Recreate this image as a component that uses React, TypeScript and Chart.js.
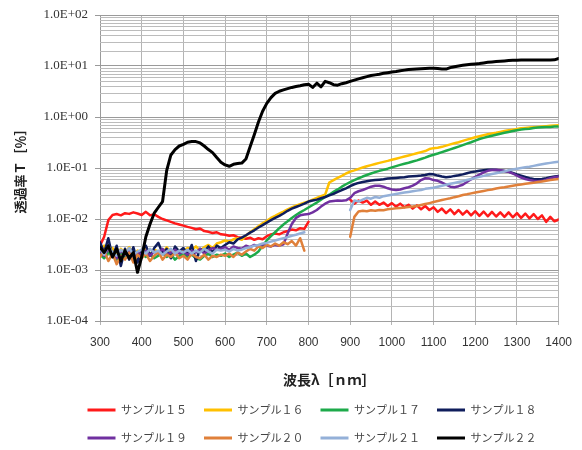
import { useEffect, useRef } from 'react';
import { Chart, registerables } from 'chart.js';

Chart.register(...registerables);

const wavelengths = [
  300, 310, 320, 330, 340, 350, 360, 370, 380, 390,
  400, 410, 420, 430, 440, 450, 460, 470, 480, 490,
  500, 510, 520, 530, 540, 550, 560, 570, 580, 590,
  600, 610, 620, 630, 640, 650, 660, 670, 680, 690,
  700, 710, 720, 730, 740, 750, 760, 770, 780, 790,
  800, 810, 820, 830, 840, 850, 860, 870, 880, 890,
  900, 910, 920, 930, 940, 950, 960, 970, 980, 990,
  1000, 1010, 1020, 1030, 1040, 1050, 1060, 1070, 1080, 1090,
  1100, 1110, 1120, 1130, 1140, 1150, 1160, 1170, 1180, 1190,
  1200, 1210, 1220, 1230, 1240, 1250, 1260, 1270, 1280, 1290,
  1300, 1310, 1320, 1330, 1340, 1350, 1360, 1370, 1380, 1390,
  1400,
];

const seriesNames = ['サンプル１５', 'サンプル１６', 'サンプル１７', 'サンプル１８', 'サンプル１９', 'サンプル２０', 'サンプル２１', 'サンプル２２'];
const seriesColors = ['#ff1a1a', '#ffc000', '#1daa4a', '#0f1d5c', '#7030a0', '#e0803a', '#94b0d8', '#000000'];

const sample15 = [
  0.0030, 0.0045, 0.0095, 0.0120, 0.0125, 0.0118, 0.0130, 0.0126, 0.0135, 0.0128,
  0.0120, 0.0138, 0.0118, 0.0124, 0.0110, 0.0100, 0.0094, 0.0088, 0.0082, 0.0078,
  0.0074, 0.0070, 0.0067, 0.0063, 0.0065, 0.0058, 0.0056, 0.0053, 0.0055, 0.0050,
  0.0049, 0.0047, 0.0048, 0.0044, 0.0043, 0.0041, 0.0043, 0.0039, 0.0042, 0.0040,
  0.0046, 0.0050, 0.0052, 0.0050, 0.0055, 0.0058, 0.0062, 0.0060, 0.0066, 0.0064,
  0.0088, null, null, null, null, null, null, null, null, null,
  0.024, 0.020, 0.023, 0.021, 0.023, 0.019, 0.022, 0.019, 0.021, 0.018,
  0.0205, 0.0175, 0.020, 0.0170, 0.019, 0.0160, 0.0185, 0.0155, 0.018, 0.0150,
  0.0170, 0.0138, 0.0160, 0.0130, 0.0155, 0.0125, 0.0150, 0.0122, 0.0145, 0.0118,
  0.0142, 0.0115, 0.0140, 0.0113, 0.0138, 0.0112, 0.0135, 0.0110, 0.0135, 0.0108,
  0.0130, 0.0105, 0.0128, 0.0103, 0.0125, 0.0100, 0.0118, 0.0088, 0.0110, 0.0090,
  0.0098,
];

const sample16 = [
  0.0025, 0.0030, 0.0021, 0.0027, 0.0019, 0.0026, 0.0022, 0.0028, 0.0020, 0.0024,
  0.0022, 0.0027, 0.0020, 0.0025, 0.0023, 0.0021, 0.0028, 0.0022, 0.0026, 0.0024,
  0.0023, 0.0027, 0.0025, 0.0029, 0.0024, 0.0028, 0.0031, 0.0027, 0.0033, 0.0035,
  0.0038, 0.0036, 0.0040, 0.0042, 0.0039, 0.0047, 0.0055, 0.0063, 0.0072, 0.0082,
  0.0092, 0.0105, 0.0115, 0.0128, 0.0140, 0.0155, 0.0168, 0.0182, 0.0195, 0.0208,
  0.022, 0.024, 0.026, 0.028, 0.030, 0.052, 0.058, 0.064, 0.070, 0.078,
  0.085, 0.090, 0.096, 0.102, 0.108, 0.114, 0.120, 0.126, 0.132, 0.138,
  0.145, 0.152, 0.160, 0.168, 0.176, 0.185, 0.195, 0.205, 0.215, 0.235,
  0.245, 0.250, 0.260, 0.275, 0.290, 0.305, 0.320, 0.340, 0.360, 0.380,
  0.40, 0.42, 0.44, 0.46, 0.475, 0.49, 0.51, 0.53, 0.55, 0.565,
  0.58, 0.60, 0.61, 0.62, 0.63, 0.64, 0.65, 0.66, 0.67, 0.68,
  0.69,
];

const sample17 = [
  0.0020, 0.0017, 0.0022, 0.0019, 0.0016, 0.0021, 0.0018, 0.0020, 0.0017, 0.0019,
  0.0021, 0.0018, 0.0020, 0.0017, 0.0019, 0.0022, 0.0018, 0.0020, 0.0016, 0.0019,
  0.0021, 0.0018, 0.0020, 0.0017, 0.0016, 0.0019, 0.0021, 0.0018, 0.0020, 0.0019,
  0.0021, 0.0018, 0.0020, 0.0022, 0.0019, 0.0021, 0.0018, 0.0020, 0.0023, 0.0030,
  0.0038, 0.0046, 0.0055, 0.0066, 0.0078, 0.0090, 0.0105, 0.0120, 0.0135, 0.0150,
  0.0168, 0.0188, 0.021, 0.024, 0.027, 0.030, 0.034, 0.038, 0.043, 0.048,
  0.053, 0.058, 0.063, 0.068, 0.073, 0.078, 0.083, 0.088, 0.092, 0.097,
  0.103, 0.109, 0.115, 0.121, 0.127, 0.134, 0.141, 0.150, 0.160, 0.172,
  0.182, 0.192, 0.205, 0.218, 0.232, 0.246, 0.262, 0.280, 0.30, 0.32,
  0.345, 0.37, 0.39, 0.41, 0.43, 0.45, 0.47, 0.49, 0.51, 0.53,
  0.55, 0.57, 0.58, 0.59, 0.61, 0.62, 0.63, 0.64, 0.64, 0.65,
  0.65,
];

const sample18 = [
  0.0035, 0.0022, 0.0042, 0.0018, 0.0030, 0.0012, 0.0026, 0.0016, 0.0028, 0.0014,
  0.0024, 0.0030, 0.0019, 0.0027, 0.0034, 0.0021, 0.0026, 0.0017, 0.0029, 0.0023,
  0.0027, 0.0020, 0.0031, 0.0015, 0.0026, 0.0023, 0.0029, 0.0022, 0.0030, 0.0027,
  0.0031, 0.0035, 0.0033, 0.0040, 0.0043, 0.0048, 0.0054, 0.0060, 0.0068, 0.0076,
  0.0085, 0.0095, 0.0105, 0.0115, 0.0128, 0.0145, 0.0160, 0.0172, 0.0185, 0.0200,
  0.0220, 0.0230, 0.0240, 0.0255, 0.0270, 0.0290, 0.0310, 0.0340, 0.0370, 0.0400,
  0.0440, 0.048, 0.051, 0.053, 0.055, 0.057, 0.058, 0.059, 0.060, 0.062,
  0.063, 0.064, 0.065, 0.066, 0.068, 0.069, 0.070, 0.071, 0.073, 0.076,
  0.075, 0.071, 0.068, 0.066, 0.067, 0.070, 0.072, 0.075, 0.079, 0.083,
  0.085, 0.088, 0.090, 0.092, 0.092, 0.091, 0.089, 0.087, 0.085, 0.080,
  0.075, 0.071, 0.067, 0.063, 0.061, 0.060, 0.061, 0.063, 0.066, 0.068,
  0.070,
];

const sample19 = [
  0.0023, 0.0019, 0.0026, 0.0021, 0.0017, 0.0024, 0.0020, 0.0025, 0.0018, 0.0022,
  0.0020, 0.0024, 0.0019, 0.0023, 0.0021, 0.0026, 0.0020, 0.0022, 0.0025, 0.0021,
  0.0023, 0.0020, 0.0024, 0.0022, 0.0026, 0.0021, 0.0024, 0.0027, 0.0025, 0.0026,
  0.0028, 0.0025, 0.0029, 0.0027, 0.0026, 0.0030, 0.0028, 0.0031, 0.0029, 0.0032,
  0.0030, 0.0029, 0.0031, 0.0030, 0.0032, 0.0052, 0.0080, 0.0105, 0.0118, 0.0122,
  0.0125, 0.0135, 0.0150, 0.0175, 0.0200, 0.0220, 0.0225, 0.0230, 0.0228, 0.0232,
  0.026, 0.032, 0.035, 0.037, 0.040, 0.043, 0.045, 0.045, 0.043, 0.040,
  0.038, 0.037, 0.038, 0.040, 0.042, 0.045, 0.050, 0.058, 0.063, 0.062,
  0.058, 0.056, 0.052, 0.047, 0.043, 0.042, 0.044, 0.047, 0.053, 0.060,
  0.067, 0.074, 0.082, 0.088, 0.091, 0.092, 0.090, 0.087, 0.084, 0.078,
  0.071, 0.065, 0.061, 0.058, 0.056, 0.055, 0.056, 0.059, 0.063, 0.066,
  0.068,
];

const sample20 = [
  0.0018, 0.0024, 0.0015, 0.0021, 0.0013, 0.0019, 0.0016, 0.0022, 0.0014, 0.0020,
  0.0017, 0.0021, 0.0015, 0.0019, 0.0023, 0.0016, 0.0020, 0.0018, 0.0022, 0.0017,
  0.0019, 0.0016, 0.0021, 0.0018, 0.0017, 0.0020, 0.0016, 0.0019, 0.0018, 0.0020,
  0.0019, 0.0021, 0.0018, 0.0022, 0.0020, 0.0023, 0.0026, 0.0024, 0.0029, 0.0027,
  0.0031, 0.0029, 0.0033, 0.0030, 0.0035, 0.0032, 0.0037, 0.0030, 0.0042, 0.0024,
  null, null, null, null, null, null, null, null, null, null,
  0.0045, 0.0110, 0.0140, 0.0145, 0.0142, 0.0148, 0.0145, 0.0150, 0.0148, 0.0155,
  0.0158, 0.0162, 0.0165, 0.0168, 0.0172, 0.0175, 0.0180, 0.0188, 0.0196, 0.0205,
  0.0215, 0.0225, 0.0235, 0.0245, 0.0255, 0.0268, 0.0280, 0.0295, 0.0305, 0.0318,
  0.0330, 0.0342, 0.0355, 0.0368, 0.0380, 0.0395, 0.0408, 0.0420, 0.0435, 0.0450,
  0.0462, 0.0475, 0.0490, 0.0502, 0.0515, 0.0530, 0.0545, 0.0560, 0.0580, 0.0595,
  0.0610,
];

const sample21 = [
  0.0026, 0.0020, 0.0030, 0.0022, 0.0019, 0.0025, 0.0021, 0.0027, 0.0020, 0.0023,
  0.0025, 0.0021, 0.0026, 0.0022, 0.0024, 0.0020, 0.0023, 0.0026, 0.0021, 0.0024,
  0.0022, 0.0025, 0.0021, 0.0024, 0.0022, 0.0026, 0.0023, 0.0021, 0.0025, 0.0024,
  0.0025, 0.0023, 0.0026, 0.0024, 0.0025, 0.0027, 0.0028, 0.0030, 0.0031, 0.0033,
  0.0034, 0.0036, 0.0038, 0.0040, 0.0042, 0.0044, 0.0047, 0.0049, 0.0052, 0.0055,
  null, null, null, null, null, null, null, null, null, null,
  0.015, 0.023, 0.022, 0.024, 0.026, 0.025, 0.027, 0.026, 0.028, 0.029,
  0.030, 0.031, 0.032, 0.033, 0.034, 0.035, 0.036, 0.037, 0.039, 0.040,
  0.041, 0.043, 0.045, 0.047, 0.049, 0.051, 0.053, 0.055, 0.058, 0.061,
  0.064, 0.067, 0.070, 0.073, 0.076, 0.079, 0.082, 0.086, 0.090, 0.094,
  0.097, 0.100, 0.103, 0.106, 0.110, 0.114, 0.118, 0.122, 0.126, 0.129,
  0.132,
];

const sample22 = [
  0.0028, 0.0022, 0.0030, 0.0018, 0.0026, 0.0015, 0.0024, 0.0017, 0.0022, 0.0009,
  0.0018, 0.0045, 0.0080, 0.013, 0.017, 0.022, 0.09, 0.18, 0.23, 0.27,
  0.29, 0.32, 0.33, 0.33, 0.31, 0.27, 0.23, 0.20, 0.16, 0.13,
  0.115, 0.108, 0.118, 0.122, 0.125, 0.15, 0.26, 0.45, 0.80, 1.3,
  1.85, 2.4, 2.9, 3.2, 3.4, 3.6, 3.8, 3.95, 4.1, 4.3,
  4.4, 3.8, 4.6, 3.9, 5.0, 4.7, 4.3, 4.2, 4.5, 4.7,
  5.0, 5.3, 5.6, 5.9, 6.2, 6.5, 6.7, 6.9, 7.2, 7.4,
  7.6, 7.8, 8.1, 8.3, 8.5, 8.6, 8.7, 8.8, 8.9, 9.0,
  9.0, 8.9, 8.7, 8.7, 9.3, 9.7, 10.0, 10.3, 10.6, 10.8,
  11.0, 11.2, 11.5, 11.8, 12.0, 12.2, 12.4, 12.6, 12.8, 12.9,
  13.0, 13.1, 13.1, 13.1, 13.1, 13.1, 13.1, 13.1, 13.1, 13.2,
  14.0,
];

const yMajorTicks = [0.0001, 0.001, 0.01, 0.1, 1, 10, 100];
const yTickLabels = ['1.0E-04', '1.0E-03', '1.0E-02', '1.0E-01', '1.0E+00', '1.0E+01', '1.0E+02'];
const yMinorSteps = [2, 3, 4, 5, 6, 7, 8, 9];
const xTicks = [300, 400, 500, 600, 700, 800, 900, 1000, 1100, 1200, 1300, 1400];
const xTickLabels = ['300', '400', '500', '600', '700', '800', '900', '1000', '1100', '1200', '1300', '1400'];

const LEGEND_DX = 32;
const LEGEND_DY = 3.5;

export default function App() {
  const ref = useRef<HTMLCanvasElement>(null);

  useEffect(() => {
    document.body.style.margin = '0';
    const canvas = ref.current;
    if (!canvas) return;

    const series = [sample15, sample16, sample17, sample18, sample19, sample20, sample21, sample22];
    const datasets = series.map((vals, i) => ({
      label: seriesNames[i],
      data: wavelengths.map((w, j) => ({ x: w, y: vals[j] })),
      borderColor: seriesColors[i],
      backgroundColor: seriesColors[i],
      pointBorderColor: seriesColors[i],
      pointBackgroundColor: seriesColors[i],
      pointBorderWidth: 3,
      borderWidth: i === 7 ? 3 : 2.5,
      pointRadius: 0,
      pointHoverRadius: 0,
      tension: 0,
      order: series.length - i,
      borderJoinStyle: 'round' as const,
      borderCapStyle: 'round' as const,
    }));

    const legendShift = {
      id: 'legendShift',
      afterLayout(chart: any) {
        const lg = chart.legend;
        if (lg) {
          lg.left += LEGEND_DX;
          lg.right += LEGEND_DX;
          lg.top += LEGEND_DY;
          lg.bottom += LEGEND_DY;
        }
      },
    };

    // minor log grid lines (2..9 in each decade), placed through the y scale
    const minorGrid = {
      id: 'minorGrid',
      afterDraw() {},
      beforeDatasetsDraw(chart: any) {
        const ctx: CanvasRenderingContext2D = chart.ctx;
        const area = chart.chartArea;
        const ys = chart.scales.y;
        ctx.save();
        ctx.strokeStyle = '#bcbcbc';
        ctx.lineWidth = 1;
        ctx.setLineDash([]);
        ctx.beginPath();
        for (let k = 0; k < yMajorTicks.length - 1; k++) {
          for (const s of yMinorSteps) {
            const py = Math.round(ys.getPixelForValue(yMajorTicks[k] * s)) + 0.5;
            ctx.moveTo(area.left, py);
            ctx.lineTo(area.right, py);
          }
        }
        ctx.stroke();
        ctx.restore();
      },
    };

    const chart = new Chart(canvas, {
      type: 'line',
      data: { datasets },
      plugins: [legendShift, minorGrid],
      options: {
        animation: false,
        responsive: false,
        maintainAspectRatio: false,
        layout: { padding: { top: 15, right: 22, left: 0, bottom: 0 } },
        plugins: {
          tooltip: { enabled: false },
          legend: {
            position: 'bottom',
            labels: {
              sort: (a: any, b: any) => a.datasetIndex - b.datasetIndex,
              usePointStyle: true,
              pointStyle: 'line',
              pointStyleWidth: 28,
              padding: 17,
              color: '#444',
              font: { family: 'Noto Sans CJK JP', size: 11 },
            },
          },
        },
        scales: {
          x: {
            type: 'linear',
            min: 300,
            max: 1400,
            afterBuildTicks: (scale: any) => {
              scale.ticks = xTicks.map((v) => ({ value: v }));
            },
            afterFit: (scale: any) => {
              scale.height = 63;
            },
            ticks: {
              autoSkip: false,
              maxRotation: 0,
              padding: 10,
              color: '#333',
              font: { family: 'Liberation Sans', size: 12 },
              callback: (value: any) => {
                const k = xTicks.indexOf(Number(value));
                return k >= 0 ? xTickLabels[k] : '';
              },
            },
            grid: { color: '#b4b4b4', tickLength: 4, tickColor: '#b4b4b4' },
            border: { color: '#a0a0a0' },
            title: {
              display: true,
              text: '波長λ［ｎｍ］',
              color: '#222',
              font: { family: 'Noto Sans CJK JP', size: 14, weight: 'bold' },
              padding: { top: 0, bottom: -4 },
            },
          },
          y: {
            type: 'logarithmic',
            min: 0.0001,
            max: 100,
            afterBuildTicks: (scale: any) => {
              scale.ticks = yMajorTicks.map((v) => ({ value: v, major: true }));
            },
            afterFit: (scale: any) => {
              scale.width = 100;
            },
            ticks: {
              autoSkip: false,
              padding: 7,
              color: '#333',
              font: { family: 'Liberation Serif', size: 13 },
              callback: (value: any) => {
                const k = yMajorTicks.indexOf(Number(value));
                return k >= 0 ? yTickLabels[k] : '';
              },
            },
            grid: { color: '#9a9a9a', tickLength: 5, tickColor: '#9a9a9a' },
            border: { color: '#9a9a9a' },
            title: {
              display: true,
              text: '透過率Ｔ［％］',
              color: '#222',
              font: { family: 'Noto Sans CJK JP', size: 13, weight: 'bold' },
              padding: { top: 12, bottom: 0 },
            },
          },
        },
      },
    } as any);

    return () => {
      chart.destroy();
    };
  }, []);

  return (
    <div style={{ width: 582, height: 450, overflow: 'hidden', background: '#fff' }}>
      <canvas ref={ref} width={582} height={450} style={{ display: 'block' }} />
    </div>
  );
}
